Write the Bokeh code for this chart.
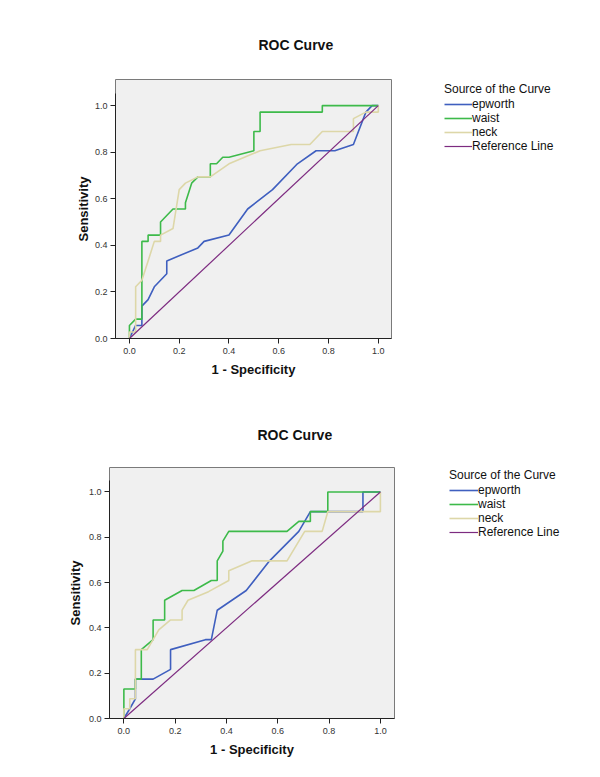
from bokeh.plotting import figure
from bokeh.models import Range1d, Legend, LegendItem, FixedTicker, Title
from bokeh.layouts import column, row
from bokeh.embed import file_html
from bokeh.resources import INLINE

# ---------- data: chart 1 ----------
c1_epworth_x = [0, 0.025, 0.05, 0.05, 0.075, 0.1, 0.15, 0.15, 0.275, 0.3, 0.4, 0.475, 0.575, 0.675, 0.75, 0.825, 0.9, 0.95, 0.975, 1.0]
c1_epworth_y = [0, 0.056, 0.056, 0.139, 0.167, 0.222, 0.278, 0.333, 0.389, 0.417, 0.444, 0.556, 0.639, 0.75, 0.806, 0.806, 0.833, 0.972, 1.0, 1.0]
c1_waist_x = [0, 0, 0.025, 0.05, 0.05, 0.075, 0.075, 0.125, 0.125, 0.175, 0.225, 0.225, 0.25, 0.275, 0.325, 0.325, 0.35, 0.375, 0.4, 0.5, 0.5, 0.525, 0.525, 0.775, 0.775, 1.0]
c1_waist_y = [0, 0.056, 0.083, 0.083, 0.417, 0.417, 0.444, 0.444, 0.5, 0.556, 0.556, 0.583, 0.667, 0.694, 0.694, 0.75, 0.75, 0.778, 0.778, 0.806, 0.889, 0.889, 0.972, 0.972, 1.0, 1.0]
c1_neck_x = [0, 0, 0.025, 0.025, 0.05, 0.075, 0.1, 0.125, 0.125, 0.175, 0.2, 0.225, 0.275, 0.325, 0.4, 0.525, 0.65, 0.725, 0.775, 0.9, 0.9, 0.95, 1.0, 1.0]
c1_neck_y = [0, 0.028, 0.028, 0.222, 0.25, 0.333, 0.417, 0.417, 0.444, 0.472, 0.639, 0.667, 0.694, 0.694, 0.75, 0.806, 0.833, 0.833, 0.889, 0.889, 0.944, 0.972, 0.972, 1.0]

# ---------- data: chart 2 ----------
c2_epworth_x = [0, 0.023, 0.045, 0.045, 0.114, 0.182, 0.182, 0.318, 0.341, 0.364, 0.477, 0.568, 0.682, 0.727, 0.932, 0.932, 1.0]
c2_epworth_y = [0, 0.043, 0.087, 0.174, 0.174, 0.217, 0.304, 0.348, 0.348, 0.478, 0.565, 0.696, 0.826, 0.913, 0.913, 1.0, 1.0]
c2_waist_x = [0, 0, 0.045, 0.045, 0.068, 0.068, 0.114, 0.114, 0.159, 0.159, 0.227, 0.273, 0.341, 0.364, 0.364, 0.386, 0.386, 0.409, 0.636, 0.682, 0.727, 0.727, 0.795, 0.795, 1.0]
c2_waist_y = [0, 0.13, 0.13, 0.174, 0.174, 0.304, 0.348, 0.435, 0.435, 0.522, 0.565, 0.565, 0.609, 0.609, 0.696, 0.739, 0.783, 0.826, 0.826, 0.87, 0.87, 0.913, 0.913, 1.0, 1.0]
c2_neck_x = [0, 0, 0.023, 0.023, 0.045, 0.045, 0.091, 0.114, 0.136, 0.182, 0.227, 0.227, 0.25, 0.33, 0.409, 0.409, 0.5, 0.636, 0.705, 0.773, 0.795, 1.0, 1.0]
c2_neck_y = [0, 0.043, 0.043, 0.087, 0.087, 0.304, 0.304, 0.348, 0.391, 0.435, 0.435, 0.478, 0.522, 0.56, 0.609, 0.652, 0.696, 0.696, 0.826, 0.826, 0.913, 0.913, 1.0]

ref_x = [0, 1]
ref_y = [0, 1]

series_names = ["epworth", "waist", "neck", "Reference Line"]
colors = ["#3f5fbf", "#3dba4a", "#ddd7a8", "#7d2b80"]
y_ticks = [0.0, 0.2, 0.4, 0.6, 0.8, 1.0]
x_ticks = [0.0, 0.2, 0.4, 0.6, 0.8, 1.0]
title_text = "ROC Curve"
x_label = "1 - Specificity"
y_label = "Sensitivity"
legend_title = "Source of the Curve"

FONT = "Liberation Sans"
NAN = float("nan")


def line_width_for(name):
    return 1.2 if name == "Reference Line" else 1.6


def make_chart(curves, width, height, borders, xr, yr, title_offset, title_standoff, ylab_standoff):
    left, right, top, bottom = borders
    p = figure(width=width, height=height, output_backend="svg", toolbar_location=None,
               x_range=Range1d(*xr), y_range=Range1d(*yr),
               min_border_left=left, min_border_right=right,
               min_border_top=top, min_border_bottom=bottom)
    p.title = Title(text=title_text, align="left", offset=title_offset,
                    text_font=FONT, text_font_style="bold", text_font_size="14px",
                    text_color="#111111", standoff=title_standoff)
    p.background_fill_color = "#f0f0f0"
    p.border_fill_color = "white"
    p.outline_line_color = "#7a7a7a"
    p.outline_line_width = 1
    p.xgrid.visible = False
    p.ygrid.visible = False

    for ax in (p.xaxis, p.yaxis):
        ax.major_tick_in = 0
        ax.major_tick_out = 5
        ax.minor_tick_line_color = None
        ax.major_label_text_font = FONT
        ax.major_label_text_font_size = "9px"
        ax.major_label_text_color = "#333333"
        ax.axis_line_color = "#222222"
        ax.major_tick_line_color = "#222222"
        ax.axis_label_text_font = FONT
        ax.axis_label_text_font_style = "bold"
        ax.axis_label_text_font_size = "13px"
        ax.axis_label_text_color = "#111111"
    p.xaxis.axis_label_standoff = 5
    p.yaxis.axis_label_standoff = ylab_standoff
    p.xaxis.ticker = FixedTicker(ticks=x_ticks)
    p.yaxis.ticker = FixedTicker(ticks=y_ticks)
    p.xaxis.major_label_overrides = {t: f"{t:.1f}" for t in x_ticks}
    p.yaxis.major_label_overrides = {t: f"{t:.1f}" for t in y_ticks}
    p.xaxis.major_label_standoff = 4
    p.yaxis.major_label_standoff = 3
    p.xaxis.axis_label = x_label
    p.yaxis.axis_label = y_label
    p.yaxis.bounds = (0, 1.05)

    for (xs, ys), name, col in zip(curves, series_names, colors):
        p.line(xs, ys, line_color=col, line_width=line_width_for(name))
    return p


def make_legend(width, height, loc, glyph_w):
    q = figure(width=width, height=height, output_backend="svg", toolbar_location=None,
               x_axis_type=None, y_axis_type=None,
               x_range=Range1d(0, 1), y_range=Range1d(0, 1),
               min_border=0)
    q.outline_line_color = None
    q.background_fill_color = "white"
    q.border_fill_color = "white"
    q.xgrid.visible = False
    q.ygrid.visible = False
    items = []
    for name, col in zip(series_names, colors):
        # placeholder renderer (no visible marks) that only supplies the legend swatch
        r = q.line([NAN], [NAN], line_color=col, line_width=line_width_for(name))
        items.append(LegendItem(label=name, renderers=[r]))
    legend = Legend(items=items, location=loc, title=legend_title,
                    title_text_font=FONT, title_text_font_style="normal",
                    title_text_font_size="12px", title_text_color="#111111",
                    title_standoff=1,
                    label_text_font=FONT, label_text_font_size="12px",
                    label_text_color="#111111",
                    label_standoff=0, glyph_width=glyph_w, glyph_height=14,
                    label_height=14, spacing=0, padding=0, margin=0,
                    border_line_alpha=0, background_fill_alpha=0)
    q.add_layout(legend)
    return q


p1 = make_chart(
    [(c1_epworth_x, c1_epworth_y), (c1_waist_x, c1_waist_y),
     (c1_neck_x, c1_neck_y), (ref_x, ref_y)],
    400, 400, (115, 9, 79, 62), (-0.056, 1.053), (0, 1.112), 143, 53, 1)
l1 = make_legend(192, 400, (44, 185), 28)

p2 = make_chart(
    [(c2_epworth_x, c2_epworth_y), (c2_waist_x, c2_waist_y),
     (c2_neck_x, c2_neck_y), (ref_x, ref_y)],
    400, 377, (109, 6, 67, 59), (-0.056, 1.055), (0, 1.108), 148, 49, 3)
l2 = make_legend(192, 377, (49, 179), 29)

layout = column(row(p1, l1, spacing=0), row(p2, l2, spacing=0), spacing=0)
open("out.html", "w").write(file_html(layout, INLINE))
